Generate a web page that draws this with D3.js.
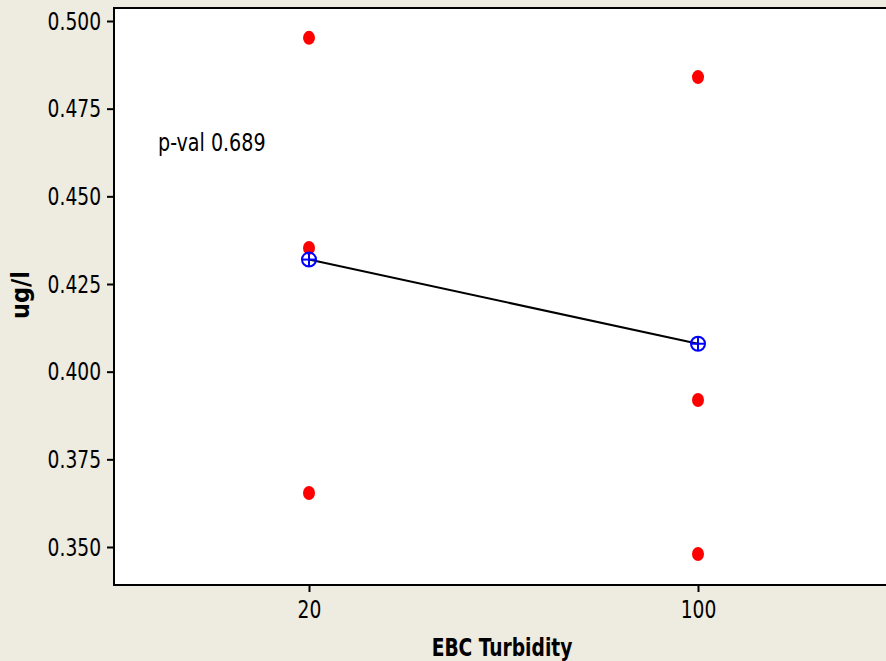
<!DOCTYPE html>
<html>
<head>
<meta charset="utf-8">
<script src="https://cdn.jsdelivr.net/npm/d3@7"></script>
<style>
  body { margin: 0; background: #eeebe0; }
  svg { display: block; }
</style>
</head>
<body>
<svg id="chart" width="886" height="661"></svg>
<script>
// Data
const groups = ["20", "100"];
const obs20 = [0.4952, 0.4353, 0.3654];
const obs100 = [0.4840, 0.3919, 0.3480];
const yTicks = [0.350, 0.375, 0.400, 0.425, 0.450, 0.475, 0.500];
const pValText = "p-val 0.689";

const font = "'DejaVu Sans Condensed', 'DejaVu Sans', sans-serif";
const width = 886, height = 661;
const plot = { left: 114, top: 8, right: 900, bottom: 585 };

function narrow(sel, factor) {
    // Squeeze text horizontally, the original font is narrower than DejaVu
    sel.each(function() {
        const len = this.getComputedTextLength();
        d3.select(this)
            .attr("textLength", len * factor)
            .attr("lengthAdjust", "spacingAndGlyphs");
    });
}

const svg = d3.select("#chart");

// background
svg.append("rect")
    .attr("width", width)
    .attr("height", height)
    .attr("fill", "#eeebe0");

// Plot area
svg.append("rect")
    .attr("x", plot.left)
    .attr("y", plot.top)
    .attr("width", plot.right - plot.left)
    .attr("height", plot.bottom - plot.top)
    .attr("fill", "white")
    .attr("stroke", "black")
    .attr("stroke-width", 2);

// Scales
const x = d3.scalePoint()
    .domain(groups)
    .range([309, 698]);

const y = d3.scaleLinear()
    .domain([0.350, 0.500])
    .range([547, 21]);

// Y axis
const yAxis = svg.append("g")
    .attr("transform", `translate(${plot.left},0)`)
    .call(d3.axisLeft(y).tickValues(yTicks).tickFormat(d3.format(".3f")).tickSize(7).tickPadding(6));
yAxis.select(".domain").remove();
yAxis.selectAll("line").attr("stroke", "black").attr("stroke-width", 2);
yAxis.selectAll("text")
    .attr("font-family", font)
    .style("font-size", "25px")
    .attr("fill", "black")
    .call(narrow, 0.83);

// X axis
const xAxis = svg.append("g")
    .attr("transform", `translate(0,${plot.bottom})`)
    .call(d3.axisBottom(x).tickSize(7).tickPadding(8));
xAxis.select(".domain").remove();
xAxis.selectAll("line").attr("stroke", "black").attr("stroke-width", 2);
xAxis.selectAll("text")
    .attr("font-family", font)
    .style("font-size", "25px")
    .attr("fill", "black")
    .call(narrow, 0.83);

// Axis labels
svg.append("text")
    .attr("font-family", font)
    .attr("font-weight", "bold")
    .style("font-size", "25px")
    .attr("text-anchor", "middle")
    .attr("x", 502)
    .attr("y", 656)
    .text("EBC Turbidity")
    .call(narrow, 0.83);

svg.append("text")
    .attr("font-family", font)
    .attr("font-weight", "bold")
    .style("font-size", "25px")
    .attr("text-anchor", "middle")
    .attr("transform", "rotate(-90)")
    .attr("x", -295)
    .attr("y", 29)
    .text("ug/l");

// Points
const points = [];
obs20.forEach(v => points.push({ g: "20", v: v }));
obs100.forEach(v => points.push({ g: "100", v: v }));

svg.append("g")
    .selectAll("ellipse")
    .data(points)
    .enter()
    .append("ellipse")
    .attr("cx", d => x(d.g))
    .attr("cy", d => y(d.v))
    .attr("rx", 6)
    .attr("ry", 7)
    .attr("fill", "#ff0000");

// Means connected by a line
const means = [
    { g: "20", v: d3.mean(obs20) },
    { g: "100", v: d3.mean(obs100) }
];

svg.append("path")
    .datum(means)
    .attr("fill", "none")
    .attr("stroke", "black")
    .attr("stroke-width", 2)
    .attr("d", d3.line()
        .x(d => x(d.g))
        .y(d => y(d.v)));

const meanMarks = svg.append("g")
    .selectAll("g")
    .data(means)
    .enter()
    .append("g")
    .attr("transform", d => `translate(${x(d.g)},${y(d.v)})`);

meanMarks.append("circle")
    .attr("r", 7)
    .attr("fill", "none")
    .attr("stroke", "#0000ff")
    .attr("stroke-width", 2);
meanMarks.append("line")
    .attr("x1", -7).attr("x2", 7)
    .attr("stroke", "#0000ff")
    .attr("stroke-width", 2);
meanMarks.append("line")
    .attr("y1", -7).attr("y2", 7)
    .attr("stroke", "#0000ff")
    .attr("stroke-width", 2);

// p-value annotation
svg.append("text")
    .attr("font-family", font)
    .style("font-size", "25px")
    .attr("x", 158)
    .attr("y", 151)
    .attr("fill", "black")
    .text(pValText)
    .call(narrow, 0.85);
</script>
</body>
</html>
